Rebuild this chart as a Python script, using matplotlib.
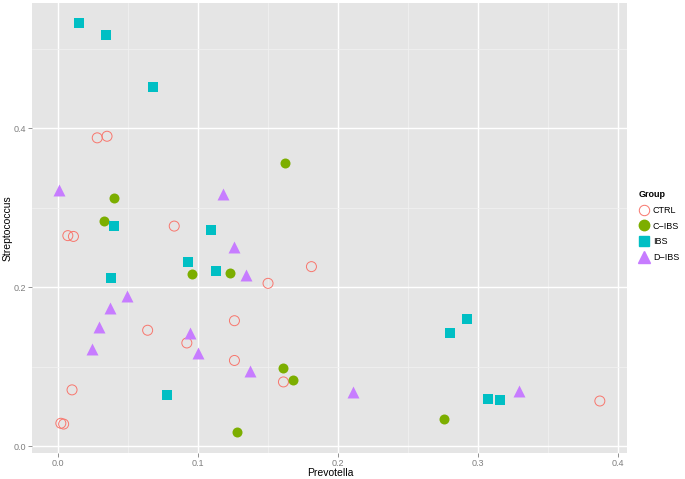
import matplotlib
matplotlib.use("Agg")
import matplotlib.pyplot as plt
from matplotlib.lines import Line2D
from matplotlib.ticker import MultipleLocator

# data (Prevotella, Streptococcus)
ctrl_x = [0.028, 0.035, 0.083, 0.007, 0.011, 0.181, 0.150, 0.126, 0.064, 0.092,
          0.126, 0.161, 0.010, 0.002, 0.004, 0.387]
ctrl_y = [0.388, 0.390, 0.277, 0.265, 0.264, 0.226, 0.205, 0.158, 0.146, 0.130,
          0.108, 0.081, 0.071, 0.029, 0.028, 0.057]

cibs_x = [0.162, 0.040, 0.033, 0.096, 0.123, 0.161, 0.168, 0.128, 0.276]
cibs_y = [0.356, 0.312, 0.284, 0.217, 0.218, 0.099, 0.083, 0.018, 0.034]

ibs_x = [0.015, 0.034, 0.068, 0.040, 0.109, 0.093, 0.113, 0.038, 0.078,
         0.292, 0.280, 0.307, 0.316]
ibs_y = [0.533, 0.517, 0.452, 0.277, 0.272, 0.232, 0.221, 0.212, 0.065,
         0.160, 0.142, 0.059, 0.058]

dibs_x = [0.001, 0.118, 0.126, 0.134, 0.049, 0.037, 0.029, 0.024, 0.094,
          0.100, 0.137, 0.211, 0.329]
dibs_y = [0.322, 0.317, 0.251, 0.215, 0.189, 0.174, 0.150, 0.122, 0.142,
          0.117, 0.095, 0.068, 0.070]

groups = ["CTRL", "C\u2212IBS", "IBS", "D\u2212IBS"]
colors = ["#F8766D", "#7CAE00", "#00BFC4", "#C77CFF"]

plt.rcParams['font.family'] = ['Liberation Sans', 'DejaVu Sans']

fig = plt.figure(figsize=(6.85, 4.79), dpi=100)
ax = fig.add_axes([32/685, 26/479, 595/685, 450/479])
ax.set_facecolor("#E5E5E5")

ax.scatter(ctrl_x, ctrl_y, s=7.2**2, facecolors="none", edgecolors=colors[0], linewidths=0.7, zorder=3)
ax.scatter(cibs_x, cibs_y, s=7.2**2, marker="o", color=colors[1], linewidths=0, zorder=3)
ax.scatter(ibs_x, ibs_y, s=6.6**2, marker="s", color=colors[2], linewidths=0, zorder=3)
ax.scatter(dibs_x, dibs_y, s=8.6**2, marker="^", color=colors[3], linewidths=0, zorder=3)

ax.set_xlim(-0.0186, 0.4064)
ax.set_ylim(-0.0084, 0.5576)
ax.xaxis.set_minor_locator(MultipleLocator(0.05))
ax.yaxis.set_minor_locator(MultipleLocator(0.1))
ax.set_xticks([0.0, 0.1, 0.2, 0.3, 0.4])
ax.set_xticklabels(["0.0", "0.1", "0.2", "0.3", "0.4"])
ax.set_yticks([0.0, 0.2, 0.4])
ax.set_yticklabels(["0.0", "0.2", "0.4"])

ax.grid(which="major", color="white", linewidth=1.0)
ax.grid(which="minor", color="#F2F2F2", linewidth=0.5)
ax.set_axisbelow(True)
for sp in ax.spines.values():
    sp.set_visible(False)
ax.tick_params(which="major", length=3, width=0.6, color="#7F7F7F",
               labelcolor="#7F7F7F", labelsize=6.5, pad=1.5)
ax.tick_params(which="minor", length=0)

ax.set_xlabel("Prevotella", fontsize=7.5)
ax.set_ylabel("Streptococcus", fontsize=7.5)
ax.xaxis.set_label_coords((330 - 32) / 595, -(473 - 453) / 450)
ax.yaxis.set_label_coords(-(32 - 8) / 595, 0.5)
ax.xaxis.label.set_va("center")
ax.yaxis.label.set_va("center")

handles = [
    Line2D([], [], linestyle="none", marker="o", markersize=7.5, markerfacecolor="none",
           markeredgecolor=colors[0], markeredgewidth=0.7),
    Line2D([], [], linestyle="none", marker="o", markersize=7.5, color=colors[1]),
    Line2D([], [], linestyle="none", marker="s", markersize=6.8, color=colors[2]),
    Line2D([], [], linestyle="none", marker="^", markersize=8.5, color=colors[3]),
]
leg = fig.legend(handles, groups, title="Group", loc="center left",
                 bbox_to_anchor=(639/685, 0.528), frameon=False, fontsize=6.5,
                 title_fontsize=6.5, handlelength=1.1, handletextpad=0.45,
                 labelspacing=0.75, borderaxespad=0, borderpad=0)
leg.get_title().set_fontweight("bold")
leg._legend_box.align = "left"

fig.savefig("out.png", dpi=100)
